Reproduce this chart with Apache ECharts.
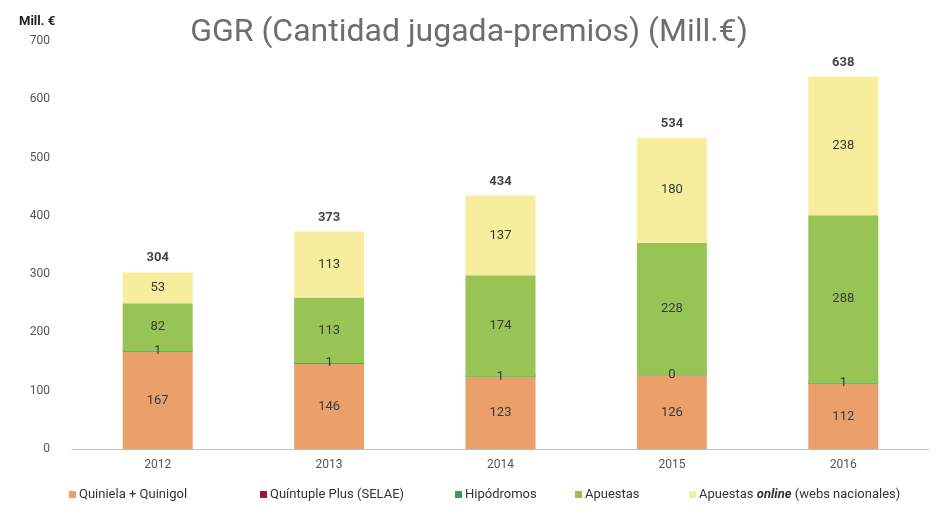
<!DOCTYPE html>
<html>
<head>
<meta charset="utf-8">
<script src="https://cdn.jsdelivr.net/npm/echarts@6/dist/echarts.min.js"></script>
<style>html,body{margin:0;padding:0;background:#fff}#c{width:938px;height:525px}</style>
</head>
<body>
<div id="c"></div>
<script>
const categories = ['2012', '2013', '2014', '2015', '2016'];
const quiniela = [167, 146, 123, 126, 112];
const quintuple = [0, 0, 0, 0, 0];
const hipodromos = [1, 1, 1, 0, 1];
const apuestas = [82, 113, 174, 228, 288];
const online = [53, 113, 137, 180, 238];
const totals = [304, 373, 434, 534, 638];
const seriesNames = ['Quiniela + Quinigol', 'Quíntuple Plus (SELAE)', 'Hipódromos', 'Apuestas', 'Apuestas online (webs nacionales)'];
const yTicks = { min: 0, max: 700, interval: 100 };

const FONT = 'Roboto, "Open Sans", sans-serif';
const labelStyle = { show: true, position: 'inside', color: '#3a3a3a', fontSize: 13, fontFamily: FONT };
const legendLeft = [64, 255, 450, 570, 684];

const legends = seriesNames.map(function (n, i) {
  return {
    top: 483, left: legendLeft[i], icon: 'rect', itemWidth: 7, itemHeight: 7, itemGap: 4,
    data: [n],
    textStyle: { fontFamily: FONT, fontSize: 13, color: '#333', padding: [0, 0, 0, -2],
      rich: { b: { fontStyle: 'italic', fontWeight: 'bold', fontFamily: FONT, fontSize: 13, color: '#333' } } },
    formatter: function (name) {
      if (name.indexOf('online') >= 0) return 'Apuestas {b|online} (webs nacionales)';
      return name;
    }
  };
});

const chart = echarts.init(document.getElementById('c'), null, { renderer: 'canvas' });
chart.setOption({
  animation: false,
  backgroundColor: '#fff',
  title: [
    { text: 'GGR (Cantidad jugada-premios) (Mill.€)', left: 'center', top: 12,
      textStyle: { fontFamily: FONT, fontSize: 32, fontWeight: 'normal', color: '#6e6e6e' } },
    { text: 'Mill. €', left: 14, top: 10,
      textStyle: { fontFamily: FONT, fontSize: 13, fontWeight: 'bold', color: '#222' } }
  ],
  grid: { left: 72, right: 9, top: 41, bottom: 76, containLabel: false },
  legend: legends,
  xAxis: {
    type: 'category', data: categories,
    axisLine: { lineStyle: { color: '#bfbfbf', width: 1 } },
    axisTick: { show: false },
    axisLabel: { color: '#555', fontSize: 12, fontFamily: FONT, margin: 10 }
  },
  yAxis: {
    type: 'value', min: yTicks.min, max: yTicks.max, interval: yTicks.interval,
    splitLine: { show: false }, axisLine: { show: false }, axisTick: { show: false },
    axisLabel: { color: '#555', fontSize: 12, fontFamily: FONT, margin: 22 }
  },
  series: [
    { name: seriesNames[0], type: 'bar', stack: 't', data: quiniela, barWidth: 70,
      itemStyle: { color: '#EBA06B' }, label: labelStyle },
    { name: seriesNames[1], type: 'bar', stack: 't', data: quintuple,
      itemStyle: { color: '#A3152B' }, label: { show: false } },
    { name: seriesNames[2], type: 'bar', stack: 't', data: hipodromos, barMinHeight: 2,
      itemStyle: { color: '#3E9B4C' }, label: labelStyle },
    { name: seriesNames[3], type: 'bar', stack: 't', data: apuestas,
      itemStyle: { color: '#97C455' }, label: labelStyle },
    { name: seriesNames[4], type: 'bar', stack: 't', data: online,
      itemStyle: { color: '#F6EE9D' }, label: labelStyle },
    { name: 'Total', type: 'scatter', data: totals, symbolSize: 1,
      itemStyle: { color: 'rgba(0,0,0,0)' },
      label: { show: true, position: 'top', distance: 7, color: '#111', fontSize: 13, fontWeight: 'bold', fontFamily: FONT,
        formatter: function (p) { return p.value; } } }
  ]
});
</script>
</body>
</html>
